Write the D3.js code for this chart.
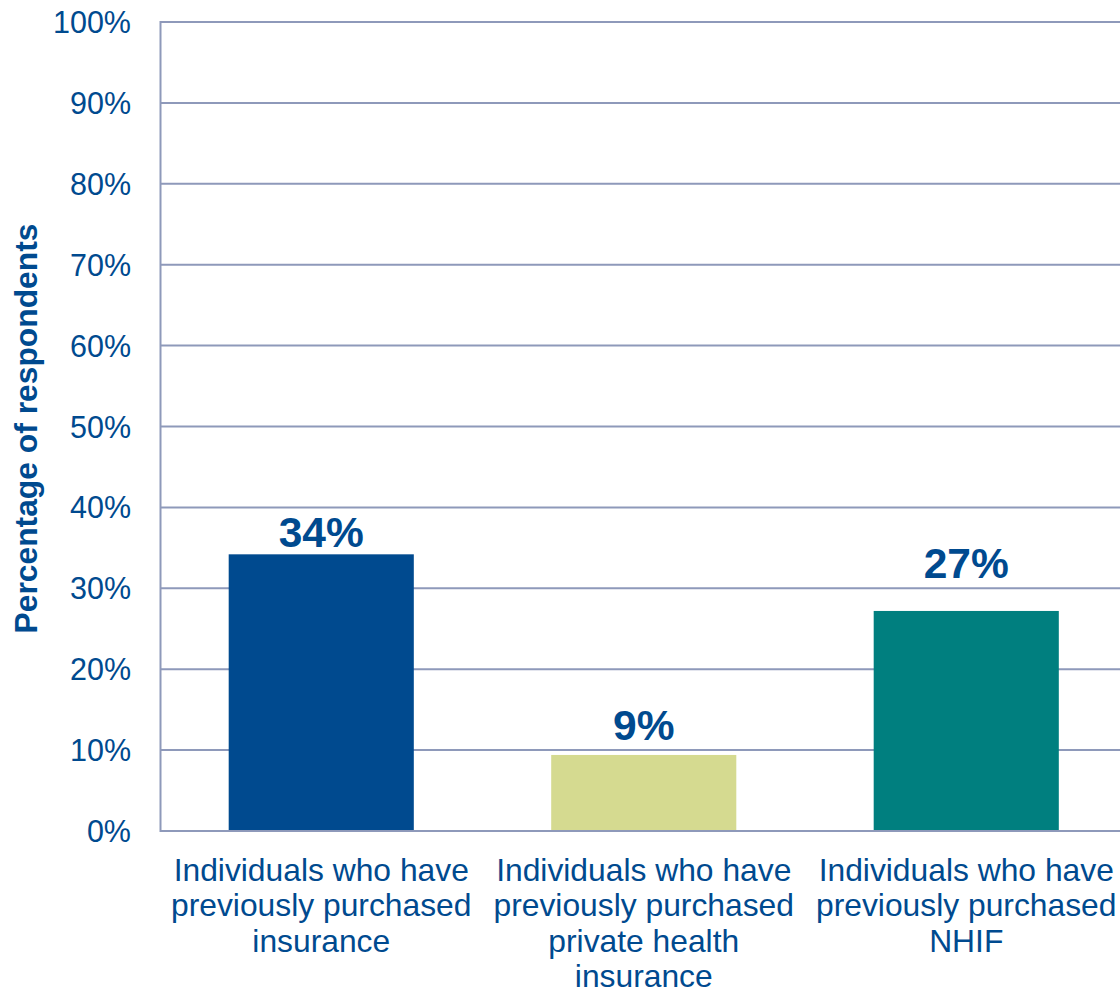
<!DOCTYPE html>
<html>
<head>
<meta charset="utf-8">
<script src="https://cdn.jsdelivr.net/npm/d3@7"></script>
<style>
  html, body { margin: 0; padding: 0; background: #fff; }
  svg { display: block; font-family: "Liberation Sans", Arial, sans-serif; }
</style>
</head>
<body>
<svg id="chart" width="1120" height="993"></svg>
<script>
// ---- data ----
const categories = [
  "Individuals who have\npreviously purchased\ninsurance",
  "Individuals who have\npreviously purchased\nprivate health\ninsurance",
  "Individuals who have\npreviously purchased\nNHIF"
];
const values = [0.342, 0.094, 0.272];
const valueLabels = ["34%", "9%", "27%"];
const barColors = ["#004A8F", "#D5DA90", "#007F7F"];
const yTicks = [0, 0.1, 0.2, 0.3, 0.4, 0.5, 0.6, 0.7, 0.8, 0.9, 1.0];
const yTitle = "Percentage of respondents";

// ---- layout / style ----
const textColor = "#004A8F";
const gridColor = "#8E99BA";
const labelGap = [7, 15, 33];

const svg = d3.select("#chart");
const plotLeft = 160.5, plotTop = 22, plotBottom = 831;

const x = d3.scaleBand()
  .domain(categories)
  .range([160, 1127.5])
  .paddingInner(0.426)
  .paddingOuter(0.213);

const y = d3.scaleLinear().domain([0, 1]).range([plotBottom, plotTop]);

// gridlines
svg.append("g").selectAll("line")
  .data(yTicks)
  .join("line")
  .attr("x1", plotLeft).attr("x2", 1120)
  .attr("y1", d => y(d)).attr("y2", d => y(d))
  .attr("stroke", gridColor).attr("stroke-width", 2);

// left axis line
svg.append("line")
  .attr("x1", plotLeft).attr("x2", plotLeft)
  .attr("y1", y(1) - 1).attr("y2", y(0) + 1)
  .attr("stroke", gridColor).attr("stroke-width", 2);

// y tick labels
svg.append("g").selectAll("text")
  .data(yTicks)
  .join("text")
  .attr("x", 131)
  .attr("y", d => y(d) + 11)
  .attr("text-anchor", "end")
  .attr("font-size", 30.5)
  .attr("fill", textColor)
  .text(d => d3.format(".0%")(d));

// bars
svg.append("g").selectAll("rect")
  .data(values)
  .join("rect")
  .attr("x", (d, i) => x(categories[i]))
  .attr("width", x.bandwidth())
  .attr("y", d => y(d))
  .attr("height", d => y(0) - y(d))
  .attr("fill", (d, i) => barColors[i]);

// redraw baseline over bars
svg.append("line")
  .attr("x1", plotLeft).attr("x2", 1120)
  .attr("y1", y(0)).attr("y2", y(0))
  .attr("stroke", gridColor).attr("stroke-width", 2);

// value labels
svg.append("g").selectAll("text")
  .data(values)
  .join("text")
  .attr("x", (d, i) => x(categories[i]) + x.bandwidth() / 2)
  .attr("y", (d, i) => y(d) - labelGap[i])
  .attr("text-anchor", "middle")
  .attr("font-size", 42.5)
  .attr("font-weight", "bold")
  .attr("fill", textColor)
  .text((d, i) => valueLabels[i]);

// category labels
const catG = svg.append("g").selectAll("text")
  .data(categories)
  .join("text")
  .attr("text-anchor", "middle")
  .attr("font-size", 31.8)
  .attr("fill", textColor);
catG.each(function(d) {
  const cx = x(d) + x.bandwidth() / 2;
  d3.select(this).selectAll("tspan")
    .data(d.split("\n"))
    .join("tspan")
    .attr("x", cx)
    .attr("y", (l, j) => 881 + j * 35.3)
    .text(l => l);
});

// y axis title
svg.append("text")
  .attr("transform", "translate(37," + 428.5 + ") rotate(-90)")
  .attr("text-anchor", "middle")
  .attr("font-size", 31.8)
  .attr("font-weight", "bold")
  .attr("fill", textColor)
  .text(yTitle);
</script>
</body>
</html>
